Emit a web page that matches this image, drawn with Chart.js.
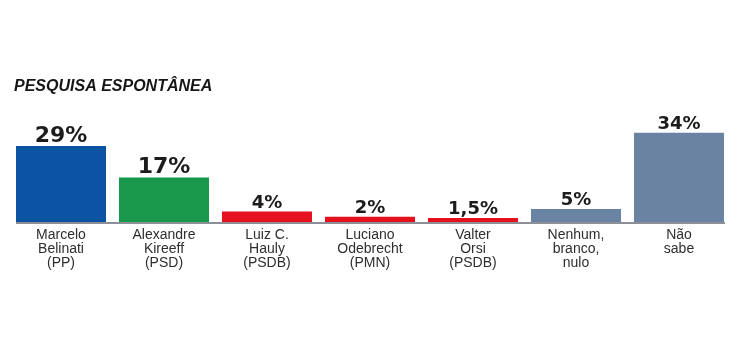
<!DOCTYPE html>
<html>
<head>
<meta charset="utf-8">
<script src="https://cdn.jsdelivr.net/npm/chart.js@4"></script>
<style>
    html, body { margin: 0; padding: 0; background: #fff; }
    #wrap { width: 750px; height: 362px; }
</style>
</head>
<body>
<div id="wrap"><canvas id="poll"></canvas></div>
<script>
const categories = [
    ['Marcelo', 'Belinati', '(PP)'],
    ['Alexandre', 'Kireeff', '(PSD)'],
    ['Luiz C.', 'Hauly', '(PSDB)'],
    ['Luciano', 'Odebrecht', '(PMN)'],
    ['Valter', 'Orsi', '(PSDB)'],
    ['Nenhum,', 'branco,', 'nulo'],
    ['Não', 'sabe']
];
const values = [29, 17, 4, 2, 1.5, 5, 34];
const title = 'PESQUISA ESPONTÂNEA';

const colors = ['#0b54a3', '#17984a', '#e5111f', '#e5111f', '#e5111f', '#6a83a3', '#6a83a3'];

// value labels above the bars, first two a bit bigger
const valueLabels = {
    id: 'valueLabels',
    afterDatasetsDraw(chart) {
        const c = chart.ctx;
        const meta = chart.getDatasetMeta(0);
        c.save();
        c.fillStyle = '#1c1c1c';
        c.textAlign = 'center';
        c.textBaseline = 'alphabetic';
        meta.data.forEach((bar, i) => {
            const size = i < 2 ? 22 : 18;
            c.font = 'bold ' + size + 'px "DejaVu Sans"';
            const txt = String(values[i]).replace('.', ',') + '%';
            c.fillText(txt, bar.x, bar.y - 4);
        });
        // baseline under the bars
        const first = meta.data[0], last = meta.data[meta.data.length - 1];
        const y0 = chart.scales.y.getPixelForValue(0);
        c.strokeStyle = '#8c9096';
        c.lineWidth = 2;
        c.beginPath();
        c.moveTo(first.x - first.width / 2, y0 + 1);
        c.lineTo(last.x + last.width / 2 + 1, y0 + 1);
        c.stroke();
        // heading
        c.textAlign = 'left';
        c.fillStyle = '#161616';
        c.font = 'italic bold 16px "Liberation Sans"';
        c.fillText(title, 14, 91);
        c.restore();
    }
};

new Chart(document.getElementById('poll'), {
    type: 'bar',
    data: {
        labels: categories,
        datasets: [{
            data: values,
            backgroundColor: colors,
            borderWidth: 0,
            barPercentage: 0.874,
            categoryPercentage: 1
        }]
    },
    options: {
        responsive: true,
        maintainAspectRatio: false,
        animation: false,
        layout: {
            padding: { left: 9.5, right: 19.5, top: 117, bottom: 86 }
        },
        plugins: {
            legend: { display: false },
            tooltip: { enabled: false }
        },
        scales: {
            x: {
                grid: { display: false, drawTicks: false },
                border: { display: false },
                ticks: {
                    color: '#2e2e2e',
                    padding: 6,
                    maxRotation: 0,
                    autoSkip: false,
                    font: { family: '"Liberation Sans"', size: 14, lineHeight: 1.0 }
                }
            },
            y: {
                display: false,
                min: 0,
                max: 40
            }
        }
    },
    plugins: [valueLabels]
});
</script>
</body>
</html>
